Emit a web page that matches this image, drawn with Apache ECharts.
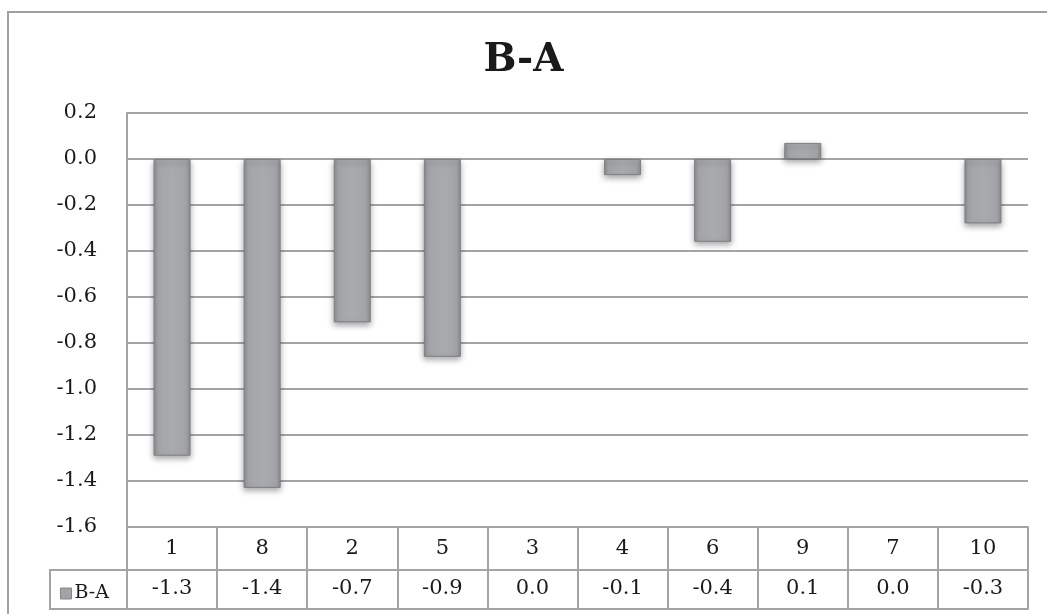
<!DOCTYPE html>
<html>
<head>
<meta charset="utf-8">
<script src="https://cdn.jsdelivr.net/npm/echarts@6/dist/echarts.min.js"></script>
<style>
  html, body { margin: 0; padding: 0; background: #ffffff; }
  #chart { width: 1047px; height: 614px; }
</style>
</head>
<body>
<div id="chart"></div>
<script>
// Categories (ordered as plotted) and the B-A difference for each
const categories = ['1', '8', '2', '5', '3', '4', '6', '9', '7', '10'];
const diffValues = [-1.29, -1.43, -0.71, -0.86, 0.0, -0.07, -0.36, 0.07, 0.0, -0.28];
const seriesName = 'B-A';

// Value axis range
const yMin = -1.6;
const yMax = 0.2;
const yStep = 0.2;

const FONT = '"DejaVu Serif", "Liberation Serif", serif';
const LINE = '#a4a4a4';
const TEXT = '#1a1a1a';
const LABEL_SIZE = 21;

const chart = echarts.init(document.getElementById('chart'), null, { renderer: 'canvas' });

const barFill = new echarts.graphic.LinearGradient(0, 0, 1, 0, [
  { offset: 0, color: '#8d8e92' },
  { offset: 0.12, color: '#a4a5a9' },
  { offset: 0.5, color: '#a9aaae' },
  { offset: 0.88, color: '#a4a5a9' },
  { offset: 1, color: '#8d8e92' }
]);

// zero-height columns leave no visible mark
const barData = diffValues.map(v => v === 0
  ? { value: v, itemStyle: { borderWidth: 0, shadowBlur: 0, shadowOffsetY: 0, opacity: 0 } }
  : v);

chart.setOption({
  backgroundColor: '#ffffff',
  animation: false,
  title: {
    text: seriesName,
    left: 'center',
    top: 36,
    textStyle: { fontFamily: FONT, fontSize: 39, fontWeight: 'bold', color: TEXT }
  },
  legend: {
    data: [seriesName],
    left: 55,
    top: 579,
    icon: 'rect',
    itemWidth: 11,
    itemHeight: 11,
    itemGap: 4,
    textStyle: { fontFamily: FONT, fontSize: 19, color: TEXT, padding: [0, 0, 0, -2] },
    itemStyle: { color: '#a2a3a7', borderColor: '#86878b', borderWidth: 1 }
  },
  grid: { left: 127, right: 19, top: 113, bottom: 87, containLabel: false },
  xAxis: [
    {
      // category row of the data table
      type: 'category',
      data: categories,
      position: 'bottom',
      boundaryGap: true,
      axisLine: { show: true, onZero: false, lineStyle: { color: LINE, width: 2 } },
      axisTick: { show: true, alignWithLabel: false, length: 82, lineStyle: { color: LINE, width: 2 } },
      axisLabel: { margin: 11, fontFamily: FONT, fontSize: LABEL_SIZE, color: TEXT },
      splitLine: { show: false }
    },
    {
      // value row of the data table
      type: 'category',
      data: categories,
      position: 'bottom',
      offset: 43,
      boundaryGap: true,
      axisLine: { show: true, onZero: false, lineStyle: { color: LINE, width: 2 } },
      axisTick: { show: false },
      axisLabel: {
        margin: 8,
        fontFamily: FONT, fontSize: LABEL_SIZE, color: TEXT,
        formatter: (v, i) => diffValues[i].toFixed(1)
      }
    },
    {
      // bottom edge of the data table
      type: 'category',
      data: categories,
      position: 'bottom',
      offset: 82,
      axisLine: { show: true, onZero: false, lineStyle: { color: LINE, width: 2 } },
      axisTick: { show: false },
      axisLabel: { show: false }
    }
  ],
  yAxis: {
    type: 'value',
    min: yMin,
    max: yMax,
    interval: yStep,
    axisLine: { show: true, lineStyle: { color: LINE, width: 2 } },
    axisTick: { show: false },
    axisLabel: {
      margin: 30,
      fontFamily: FONT, fontSize: LABEL_SIZE, color: TEXT,
      formatter: v => v.toFixed(1)
    },
    splitLine: { show: true, lineStyle: { color: LINE, width: 2 } }
  },
  series: [
    {
      name: seriesName,
      type: 'bar',
      xAxisIndex: 0,
      data: barData,
      barWidth: 37,
      itemStyle: {
        color: barFill,
        borderColor: '#7e7f83',
        borderWidth: 1,
        shadowColor: 'rgba(0,0,0,0.35)',
        shadowBlur: 6,
        shadowOffsetY: 3
      }
    }
  ],
  graphic: [
    {
      // outer chart frame
      type: 'rect',
      silent: true,
      z: -10,
      shape: { x: 8, y: 12, width: 1200, height: 800 },
      style: { fill: null, stroke: '#a0a0a0', lineWidth: 2 }
    },
    {
      // legend key cell of the data table
      type: 'rect',
      silent: true,
      z: -5,
      shape: { x: 50, y: 570, width: 77, height: 39 },
      style: { fill: null, stroke: LINE, lineWidth: 2 }
    }
  ]
});
</script>
</body>
</html>
